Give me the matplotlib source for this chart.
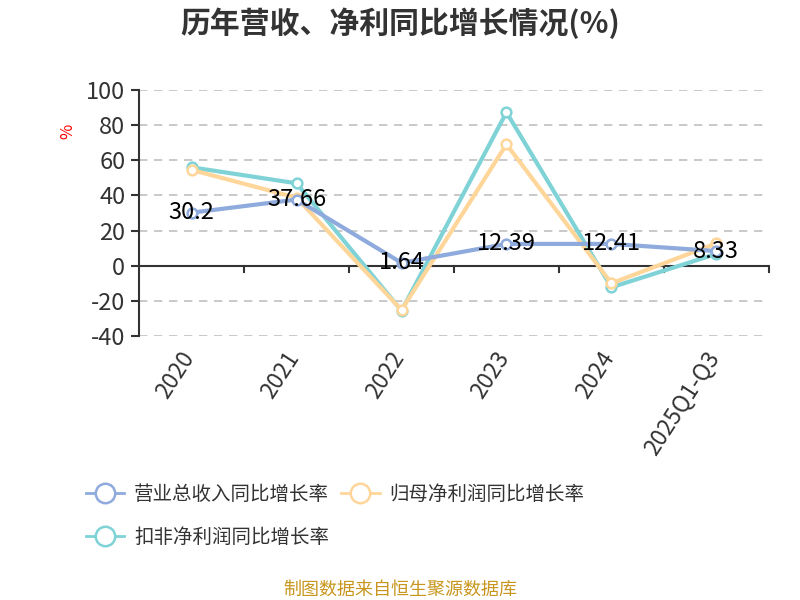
import matplotlib.pyplot as plt
import matplotlib.transforms as mtransforms
import numpy as np
import matplotlib as mpl
mpl.use('Agg')

plt.rcParams['font.family'] = ['Noto Sans CJK SC', 'DejaVu Sans']
plt.rcParams['axes.unicode_minus'] = False

categories = ['2020', '2021', '2022', '2023', '2024', '2025Q1-Q3']
revenue_growth = [30.2, 37.66, 1.64, 12.39, 12.41, 8.33]
parent_profit_growth = [54.5, 38.7, -25.2, 69.1, -10.0, 12.7]
deducted_profit_growth = [56.0, 46.9, -25.6, 87.3, -12.3, 6.7]
series_names = ['营业总收入同比增长率', '归母净利润同比增长率', '扣非净利润同比增长率']
colors = ['#8faadc', '#ffd699', '#7fd3d6']

fig = plt.figure(figsize=(8, 6), dpi=100)
ax = fig.add_axes([0.174, 0.44, 0.787, 0.41])

x = np.arange(len(categories)) + 0.5
handles = []
for vals, c, name in zip([revenue_growth, parent_profit_growth, deducted_profit_growth][::-1],
                         colors[::-1], series_names[::-1]):
    h, = ax.plot(x, vals, color=c, lw=3, marker='o', markersize=7,
                 markerfacecolor='white', markeredgecolor=c, markeredgewidth=1.8,
                 label=name, zorder=3)
    handles.append(h)
handles = handles[::-1]

for xi, v in zip(x, revenue_growth):
    ax.text(xi, v, '{:g}'.format(v), ha='center', va='center', fontsize=17,
            color='black', zorder=5)

ax.set_xlim(0, len(categories))
ax.set_ylim(-40, 100)
ax.set_yticks(range(-40, 101, 20))
ax.tick_params(axis='y', labelsize=17, colors='#333333', length=6, width=1.5, pad=4)
for yv in range(-40, 101, 20):
    if yv != 0:
        ax.axhline(yv, color='#c0c0c0', lw=1.2, ls=(0, (5, 4)), zorder=1)

for s in ['top', 'right', 'bottom']:
    ax.spines[s].set_visible(False)
ax.spines['left'].set_color('#333333')
ax.spines['left'].set_linewidth(1.5)
ax.axhline(0, color='#333333', lw=1.5, zorder=2)

# ticks on the zero line at category boundaries
for b in range(1, len(categories) + 1):
    ax.plot([b, b], [0, -3.5], color='#333333', lw=1.5, clip_on=False, zorder=2)

ax.set_xticks(x)
ax.set_xticklabels(categories, rotation=57, ha='right', rotation_mode='anchor',
                   fontsize=16.5, color='#333333')
ax.tick_params(axis='x', length=0, pad=8)
shift = mtransforms.ScaledTranslation(-12 / 100, 0, fig.dpi_scale_trans)
for lbl in ax.get_xticklabels():
    lbl.set_transform(lbl.get_transform() + shift)

ax.set_ylabel('%', color='red', fontsize=12)
ax.yaxis.set_label_coords(-0.1, 0.83)

fig.text(0.5, 0.962, '历年营收、净利同比增长情况(%)', ha='center', va='center',
         fontsize=21.5, fontweight='bold', color='#333333')

# matplotlib fills legend column-wise; reorder so it reads row-wise
order = [0, 2, 1]
leg = fig.legend(handles=[handles[i] for i in order],
                 labels=[series_names[i] for i in order], ncol=2, loc='upper left',
                 bbox_to_anchor=(0.085, 0.222), frameon=False, fontsize=14,
                 handlelength=2.0, markerscale=2.0, columnspacing=0.6,
                 labelspacing=1.1, handletextpad=0.5)
for h in leg.legend_handles:
    h.set_linewidth(2)
for t in leg.get_texts():
    t.set_color('#333333')

fig.text(0.5, 0.018, '制图数据来自恒生聚源数据库', ha='center', va='center',
         fontsize=13, color='#c8961e')

fig.savefig('out.png', dpi=100)
